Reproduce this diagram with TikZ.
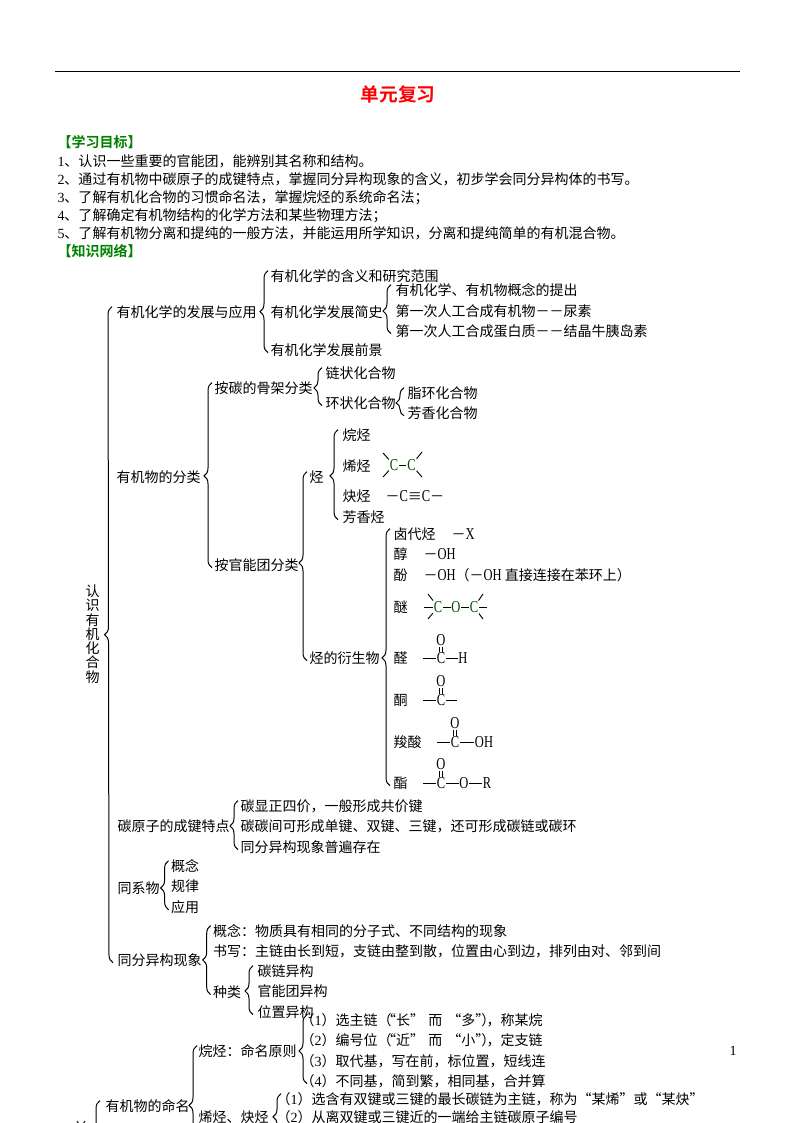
\documentclass[tikz,border=0pt]{standalone}
\usepackage{fontspec}
\usetikzlibrary{decorations.pathreplacing}
\newfontfamily\cjk[BoldFont=* Bold]{Noto Sans CJK SC}
\newfontfamily\latfont{Liberation Serif}
\newfontfamily\chemfont[FakeStretch=.75]{Liberation Serif}
\newcommand{\wuhao}{\fontsize{10.5}{12}\selectfont}
\newcommand{\lat}[1]{{\latfont #1}}
\newcommand{\elem}[1]{{\chemfont\fontsize{12.5}{12}\selectfont #1}}
\definecolor{headgreen}{RGB}{0,128,0}
\definecolor{chemgreen}{RGB}{0,70,0}
\tikzset{
  txt/.style={anchor=west,inner sep=0pt,text height=9.2pt,text depth=1.2pt,font=\cjk\wuhao},
  head/.style={txt,font=\cjk\wuhao\bfseries,text=headgreen},
  chem/.style={inner sep=.3pt,font=\chemfont\fontsize{12.5}{12}\selectfont},
  brc/.style={decorate,decoration={brace,amplitude=6pt,aspect=#1}},
  bond/.style={line width=.7pt},
  dbond/.style={line width=.6pt,double,double distance=1.2pt}
}
\begin{document}
\begin{tikzpicture}[x=.75pt,y=-.75pt,line width=.75pt]
  \path[use as bounding box,clip] (0,0) rectangle (794,1123);
  \coordinate (ruleL) at (55,72);
  \coordinate (ruleR) at (740,72);
  \draw (ruleL) -- (ruleR);
  \draw
    (398,94) node[inner sep=0pt,text=red,font=\cjk\fontsize{14}{16}\selectfont\bfseries] (title){单元复习}
    (733,1051) node[inner sep=0pt,font=\latfont\wuhao] (page){1}
    (57,142) node[head] (goal){【学习目标】}
    (57,161) node[txt] (goal1){\lat{1}、认识一些重要的官能团，能辨别其名称和结构。}
    (57,179) node[txt] (goal2){\lat{2}、通过有机物中碳原子的成键特点，掌握同分异构现象的含义，初步学会同分异构体的书写。}
    (57,197) node[txt] (goal3){\lat{3}、了解有机化合物的习惯命名法，掌握烷烃的系统命名法；}
    (57,215) node[txt] (goal4){\lat{4}、了解确定有机物结构的化学方法和某些物理方法；}
    (57,233) node[txt] (goal5){\lat{5}、了解有机物分离和提纯的一般方法，并能运用所学知识，分离和提纯简单的有机混合物。}
    (57,251) node[head] (net){【知识网络】}
    (92.7,634) node[inner sep=0pt,align=center,font=\cjk\fontsize{10.5}{10.7}\selectfont] (root){认\\识\\有\\机\\化\\合\\物}
    (116,312) node[txt] (dev){有机化学的发展与应用}
    (270,276) node[txt] (devA){有机化学的含义和研究范围}
    (270,312) node[txt] (devB){有机化学发展简史}
    (270,350) node[txt] (devC){有机化学发展前景}
    (395,290) node[txt] (histA){有机化学、有机物概念的提出}
    (395,311) node[txt] (histB){第一次人工合成有机物－－尿素}
    (395,331) node[txt] (histC){第一次人工合成蛋白质－－结晶牛胰岛素}
    (116,477) node[txt] (cls){有机物的分类}
    (214,388) node[txt] (bone){按碳的骨架分类}
    (214,565) node[txt] (func){按官能团分类}
    (325,373) node[txt] (chain){链状化合物}
    (325,403) node[txt] (ring){环状化合物}
    (407,393) node[txt] (ringA){脂环化合物}
    (407,413) node[txt] (ringB){芳香化合物}
    (309,477) node[txt] (hc){烃}
    (309,658) node[txt] (deriv){烃的衍生物}
    (342,435) node[txt] (hcA){烷烃}
    (342,466) node[txt] (hcB){烯烃}
    (342,496) node[txt] (hcC){炔烃}
    (385,496) node[txt] (hcCf){－\elem{C}≡\elem{C}－}
    (342,517) node[txt] (hcD){芳香烃}
    (393,534) node[txt] (dvA){卤代烃}
    (451,534) node[txt] (dvAf){－\elem{X}}
    (393,554) node[txt] (dvB){醇}
    (423,554) node[txt] (dvBf){－\elem{OH}}
    (393,575) node[txt] (dvC){酚}
    (423,575) node[txt] (dvCf){－\elem{OH}（－\elem{OH} 直接连接在苯环上）}
    (393,607) node[txt] (dvD){醚}
    (393,658) node[txt] (dvE){醛}
    (393,700) node[txt] (dvF){酮}
    (393,742) node[txt] (dvG){羧酸}
    (393,783) node[txt] (dvH){酯}
    (394,465) node[chem,text=chemgreen] (eneL){C}
    (411.5,465) node[chem,text=chemgreen] (eneR){C}
    (438,607) node[chem,text=chemgreen] (ethL){C}
    (456,607) node[chem,text=chemgreen] (ethO){O}
    (474,607) node[chem,text=chemgreen] (ethR){C}
    (441,658) node[chem] (aldC){C}
    (441,640) node[chem] (aldO){O}
    (463,658) node[chem] (aldH){H}
    (441,700) node[chem] (ketC){C}
    (441,681) node[chem] (ketO){O}
    (455,742) node[chem] (acdC){C}
    (455,723) node[chem] (acdO){O}
    (484,742) node[chem] (acdH){OH}
    (441,783) node[chem] (estC){C}
    (441,764) node[chem] (estO){O}
    (464,783) node[chem] (estE){O}
    (487,783) node[chem] (estR){R}
    (117,826) node[txt] (bond){碳原子的成键特点}
    (240,806) node[txt] (bondA){碳显正四价，一般形成共价键}
    (240,826) node[txt] (bondB){碳碳间可形成单键、双键、三键，还可形成碳链或碳环}
    (240,847) node[txt] (bondC){同分异构现象普遍存在}
    (117,888) node[txt] (homo){同系物}
    (170.6,866) node[txt] (homoA){概念}
    (170.6,886) node[txt] (homoB){规律}
    (170.6,907) node[txt] (homoC){应用}
    (117,960) node[txt] (iso){同分异构现象}
    (212.7,931) node[txt] (isoA){概念：物质具有相同的分子式、不同结构的现象}
    (212.7,951) node[txt] (isoB){书写：主链由长到短，支链由整到散，位置由心到边，排列由对、邻到间}
    (212.7,992) node[txt] (isoC){种类}
    (257,971) node[txt] (kindA){碳链异构}
    (257,991) node[txt] (kindB){官能团异构}
    (257,1012) node[txt] (kindC){位置异构}
    (105,1106) node[txt] (name){有机物的命名}
    (198,1051) node[txt] (nameA){烷烃：命名原则}
    (198,1117) node[txt] (nameB){烯烃、炔烃}
    (300,1020) node[txt] (ruleA){（\lat{1}）选主链（\hspace{-7pt}“长”\hspace{3.2pt}而\hspace{3.7pt}“多”\hspace{-6pt}）\hspace{-6.6pt}，称某烷}
    (300,1040) node[txt] (ruleB){（\lat{2}）编号位（\hspace{-7pt}“近”\hspace{3.2pt}而\hspace{3.7pt}“小”\hspace{-6pt}）\hspace{-6.6pt}，定支链}
    (300,1061) node[txt] (ruleC){（\lat{3}）取代基，写在前，标位置，短线连}
    (300,1081) node[txt] (ruleD){（\lat{4}）不同基，简到繁，相同基，合并算}
    (276,1099) node[txt] (stepA){（\lat{1}）选含有双键或三键的最长碳链为主链，称为“某烯”或“某炔”}
    (276,1117) node[txt] (stepB){（\lat{2}）从离双键或三键近的一端给主链碳原子编号};
  \coordinate (nameEnd) at (198,1165);
  \coordinate (stepEnd) at (276,1140);
  \coordinate (rootEnd) at (105,1200);
  \begin{scope}
    \draw[brc=.5] ([shift={(-3pt,-2pt)}]iso.west) -- ([shift={(-3pt,4pt)}]dev.west);
    \draw[brc=.5] ([shift={(-1.5pt,-2pt)}]devC.west) -- ([shift={(-1.5pt,4pt)}]devA.west);
    \draw[brc=.463] ([shift={(-3pt,-2pt)}]histC.west) -- ([shift={(-3pt,4pt)}]histA.west);
    \draw[brc=.496] ([shift={(-1.5pt,-2pt)}]func.west) -- ([shift={(-1.5pt,4pt)}]bone.west);
    \draw[brc=.466] ([shift={(-2.25pt,-2pt)}]ring.west) -- ([shift={(-2.25pt,4pt)}]chain.west);
    \draw[brc=.454] ([shift={(-2.25pt,-2pt)}]ringB.west) -- ([shift={(-2.25pt,4pt)}]ringA.west);
    \draw[brc=.517] ([shift={(-1.5pt,-2pt)}]deriv.west) -- ([shift={(-1.5pt,4pt)}]hc.west);
    \draw[brc=.486] ([shift={(-3pt,-2pt)}]hcD.west) -- ([shift={(-3pt,4pt)}]hcA.west);
    \draw[brc=.497] ([shift={(-2.25pt,-2pt)}]dvH.west) -- ([shift={(-2.25pt,4pt)}]dvA.west);
    \draw[brc=.484] ([shift={(-1.5pt,-2pt)}]bondC.west) -- ([shift={(-1.5pt,4pt)}]bondA.west);
    \draw[brc=.443] ([shift={(-1.5pt,-2pt)}]homoC.west) -- ([shift={(-1.5pt,4pt)}]homoA.west);
    \draw[brc=.503] ([shift={(-1.5pt,-2pt)}]isoC.west) -- ([shift={(-1.5pt,4pt)}]isoA.west);
    \draw[brc=.484] ([shift={(-3pt,-2pt)}]kindC.west) -- ([shift={(-3pt,4pt)}]kindA.west);
    \draw[brc=.474] ([shift={(5.25pt,-2pt)}]ruleD.west) -- ([shift={(5.25pt,4pt)}]ruleA.west);
    \draw[brc=.5] ([xshift=-.75pt]nameEnd) -- ([shift={(-.75pt,4pt)}]nameA.west);
    \draw[brc=.5] ([xshift=3.75pt]stepEnd) -- ([shift={(3.75pt,4pt)}]stepA.west);
    \draw[brc=.5] ([xshift=-3.75pt]rootEnd) -- ([shift={(-3.75pt,4pt)}]name.west);
  \end{scope}
  \coordinate (eneA) at (383,453);
  \coordinate (eneB) at (383,477);
  \coordinate (eneC) at (422,452);
  \coordinate (eneD) at (422,477);
  \coordinate (ethA) at (428,594);
  \coordinate (ethB) at (428,619);
  \coordinate (ethC) at (424,607);
  \coordinate (ethD) at (483,594);
  \coordinate (ethE) at (483,619);
  \coordinate (ethF) at (487,607);
  \coordinate (aldL) at (423,658);
  \coordinate (ketL) at (423,700);
  \coordinate (ketR) at (457,700);
  \coordinate (acdL) at (437,742);
  \coordinate (estL) at (423,783);
  \coordinate (tickA) at (77,1121);
  \coordinate (tickB) at (79,1124);
  \coordinate (tickC) at (85,1121);
  \coordinate (tickD) at (83,1124);
  \begin{scope}[bond]
    \draw (eneL) to (eneR);
    \draw (eneA) to (eneL);
    \draw (eneB) to (eneL);
    \draw (eneC) to (eneR);
    \draw (eneD) to (eneR);
    \draw (ethC) to (ethL);
    \draw (ethA) to (ethL);
    \draw (ethB) to (ethL);
    \draw (ethL) to (ethO);
    \draw (ethO) to (ethR);
    \draw (ethD) to (ethR);
    \draw (ethE) to (ethR);
    \draw (ethF) to (ethR);
    \draw (aldL) to (aldC);
    \draw (aldC) to (aldH);
    \draw (ketL) to (ketC);
    \draw (ketC) to (ketR);
    \draw (acdL) to (acdC);
    \draw (acdC) to (acdH);
    \draw (estL) to (estC);
    \draw (estC) to (estE);
    \draw (estE) to (estR);
    \draw (tickA) to (tickB);
    \draw (tickC) to (tickD);
    \draw[dbond] (aldO) to (aldC);
    \draw[dbond] (ketO) to (ketC);
    \draw[dbond] (acdO) to (acdC);
    \draw[dbond] (estO) to (estC);
  \end{scope}
\end{tikzpicture}
\end{document}
